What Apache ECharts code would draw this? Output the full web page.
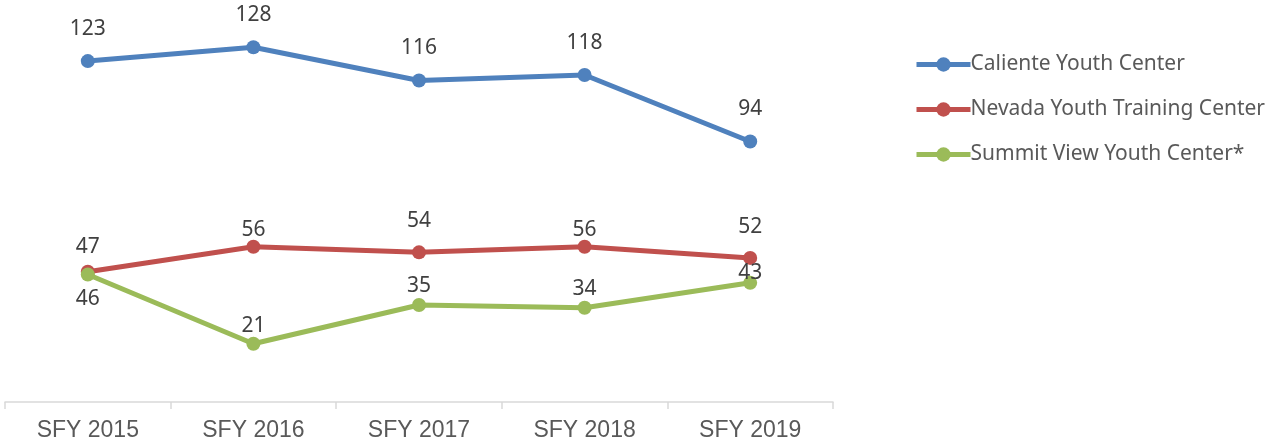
<!DOCTYPE html>
<html>
<head>
<meta charset="utf-8">
<script src="https://cdn.jsdelivr.net/npm/echarts@6/dist/echarts.min.js"></script>
<style>
  html, body { margin: 0; padding: 0; background: #fff; }
  #chart { width: 1269px; height: 446px; }
</style>
</head>
<body>
<div id="chart"></div>
<script>
const years = ['SFY 2015', 'SFY 2016', 'SFY 2017', 'SFY 2018', 'SFY 2019']
const caliente = [123, 128, 116, 118, 94]
const nevada = [47, 56, 54, 56, 52]
const summit = [46, 21, 35, 34, 43]

// vertical label offsets (px from the marker centre), as placed in the original
const calienteLabelDy = [-32, -32, -32, -32, -32]
const nevadaLabelDy = [-25, -17, -31, -17, -31]
const summitLabelDy = [25, -18, -19, -19, -10]

const chart = echarts.init(document.getElementById('chart'))

function makeSeries(name, values, dys, color) {
  return {
    name: name,
    type: 'line',
    data: values.map((v, i) => ({
      value: v,
      label: { offset: [0, dys[i]] }
    })),
    symbol: 'circle',
    symbolSize: 14,
    lineStyle: { color: color, width: 5 },
    itemStyle: { color: color },
    label: {
      show: true,
      position: 'inside',
      color: '#404040',
      fontSize: 21,
      fontFamily: 'Noto Sans'
    },
    emphasis: { disabled: true },
    animation: false
  }
}

chart.setOption({
  grid: {
    left: 5,
    right: 436,
    top: 14,
    bottom: 44
  },
  legend: {
    orient: 'vertical',
    left: 909,
    top: 49,
    itemWidth: 54,
    itemHeight: 18,
    itemGap: 24,
    lineStyle: { width: 5 },
    textStyle: {
      color: '#595959',
      fontSize: 21,
      fontFamily: 'Noto Sans',
      padding: [0, 0, 0, -5]
    },
    data: ['Caliente Youth Center', 'Nevada Youth Training Center', 'Summit View Youth Center*']
  },
  xAxis: {
    type: 'category',
    data: years,
    boundaryGap: true,
    axisLine: { lineStyle: { color: '#d9d9d9', width: 1.5 } },
    axisTick: { show: true, length: 7, lineStyle: { color: '#d9d9d9', width: 1.5 } },
    axisLabel: {
      color: '#595959',
      fontSize: 23,
      fontFamily: 'Liberation Sans',
      margin: 17
    }
  },
  yAxis: {
    type: 'value',
    min: 0,
    max: 140,
    show: false,
    splitLine: { show: false }
  },
  series: [
    makeSeries('Caliente Youth Center', caliente, calienteLabelDy, '#4f81bd'),
    makeSeries('Nevada Youth Training Center', nevada, nevadaLabelDy, '#c0504d'),
    makeSeries('Summit View Youth Center*', summit, summitLabelDy, '#9bbb59')
  ]
})
</script>
</body>
</html>
